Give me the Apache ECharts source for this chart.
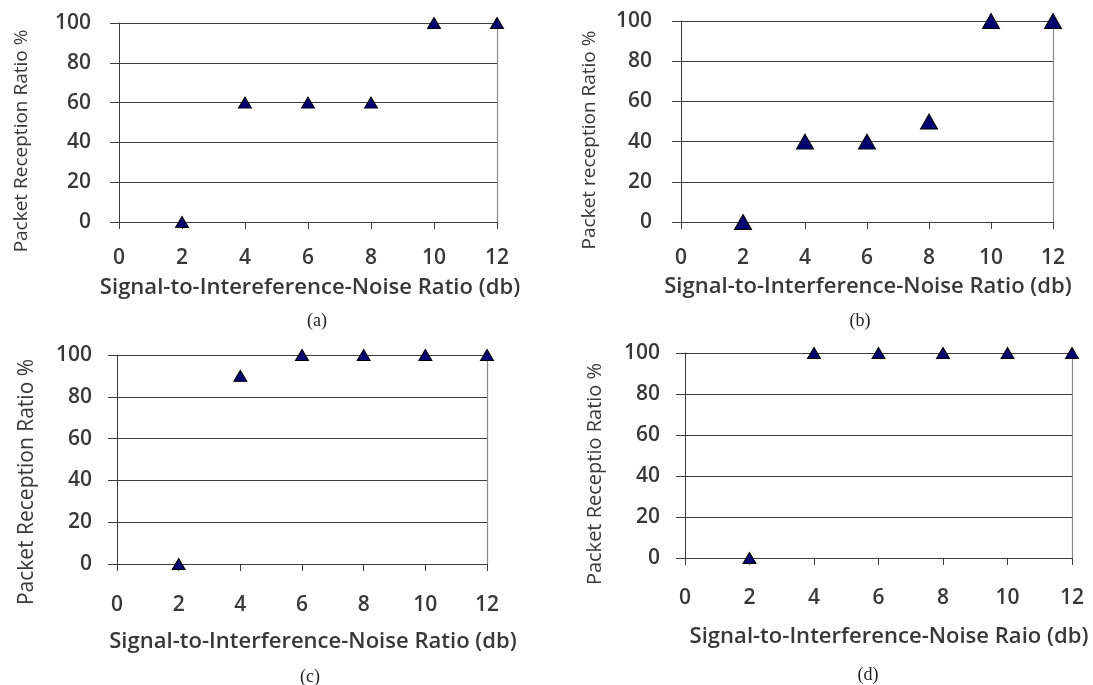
<!DOCTYPE html>
<html>
<head>
<meta charset="utf-8">
<style>
  html, body { margin: 0; padding: 0; background: #fff; }
  #chart { width: 1093px; height: 685px; }
</style>
<script src="https://cdn.jsdelivr.net/npm/echarts@6/dist/echarts.min.js"></script>
</head>
<body>
<div id="chart"></div>
<script>
// SINR values (dB) shared by all four panels
const sinr = [2, 4, 6, 8, 10, 12];

// Packet reception ratio (%) for each scenario
const prrA = [0, 60, 60, 60, 100, 100];
const prrB = [0, 40, 40, 50, 100, 100];
const prrC = [0, 90, 100, 100, 100, 100];
const prrD = [0, 100, 100, 100, 100, 100];

// Axis texts and panel captions
const xTitles = [
  'Signal-to-Intereference-Noise Ratio (db)',
  'Signal-to-Interference-Noise Ratio (db)',
  'Signal-to-Interference-Noise Ratio (db)',
  'Signal-to-Interference-Noise Raio (db)'
];
const yTitles = [
  'Packet Reception Ratio %',
  'Packet reception Ratio %',
  'Packet Reception Ratio %',
  'Packet Receptio Ratio %'
];
const captions = ['(a)', '(b)', '(c)', '(d)'];

// Layout of each panel: plot box, label margins, marker size, title positions
const panels = [
  { data: prrA, left: 119, top: 23, width: 378, height: 199, ym: 28, xm: 26, sym: [13, 11],
    xt: [310, 288], yt: [22, 141], ytSize: 19, cap: [317, 321] },
  { data: prrB, left: 681, top: 21, width: 372, height: 201, ym: 29, xm: 26, sym: [17, 15],
    xt: [868, 287], yt: [590, 140], ytSize: 19, cap: [860, 321] },
  { data: prrC, left: 117, top: 355, width: 370, height: 209, ym: 25, xm: 31, sym: [13, 11],
    xt: [313, 642], yt: [27, 482], ytSize: 21, cap: [310, 677] },
  { data: prrD, left: 685, top: 353, width: 387, height: 205, ym: 25, xm: 30, sym: [13, 11],
    xt: [889, 637], yt: [595, 474], ytSize: 20, cap: [868, 675] }
];

const FONT = '"Open Sans", "Liberation Sans", sans-serif';
const TEXT = '#383838';
const LINE = '#3c3c3c';

const grid = [], xAxis = [], yAxis = [], series = [], graphic = [];

panels.forEach((p, i) => {
  grid.push({ left: p.left, top: p.top, width: p.width, height: p.height, containLabel: false });

  xAxis.push({
    type: 'value', gridIndex: i, min: 0, max: 12, interval: 2,
    axisLine: { show: true, onZero: false, lineStyle: { color: LINE, width: 1 } },
    axisTick: { show: true, length: 7, lineStyle: { color: LINE } },
    axisLabel: { margin: p.xm, color: TEXT, fontFamily: FONT, fontSize: 21, fontWeight: 600 },
    splitLine: { show: false }
  });

  // left value axis with horizontal grid lines
  yAxis.push({
    type: 'value', gridIndex: i, min: 0, max: 100, interval: 20, position: 'left',
    axisLine: { show: true, lineStyle: { color: LINE, width: 1 } },
    axisTick: { show: true, length: 9, lineStyle: { color: LINE } },
    axisLabel: { margin: p.ym, color: TEXT, fontFamily: FONT, fontSize: 21, fontWeight: 600 },
    splitLine: { show: true, lineStyle: { color: LINE, width: 1 } }
  });
  // right border of the plot area
  yAxis.push({
    type: 'value', gridIndex: i, min: 0, max: 100, interval: 20, position: 'right',
    axisLine: { show: true, lineStyle: { color: '#8a8a8a', width: 1.2 } },
    axisTick: { show: false }, axisLabel: { show: false }, splitLine: { show: false }
  });

  series.push({
    type: 'scatter', xAxisIndex: i, yAxisIndex: i * 2,
    data: sinr.map((x, k) => [x, p.data[k]]),
    symbol: 'triangle', symbolSize: p.sym, clip: false,
    itemStyle: { color: '#000070', opacity: 1, borderColor: '#000', borderWidth: 1 },
    z: 5
  });

  graphic.push({
    type: 'text', x: p.xt[0], y: p.xt[1], scaleX: 1.05,
    style: { text: xTitles[i], font: '600 21px ' + FONT, fill: TEXT, align: 'center', verticalAlign: 'middle' }
  });
  graphic.push({
    type: 'text', x: p.yt[0], y: p.yt[1], rotation: Math.PI / 2,
    style: { text: yTitles[i], font: p.ytSize + 'px ' + FONT, fill: TEXT, align: 'center', verticalAlign: 'middle' }
  });
  graphic.push({
    type: 'text', x: p.cap[0], y: p.cap[1],
    style: { text: captions[i], font: '18px "Liberation Serif", serif', fill: '#222', align: 'center', verticalAlign: 'middle' }
  });
});

const chart = echarts.init(document.getElementById('chart'), null, { renderer: 'canvas' });
chart.setOption({
  animation: false,
  backgroundColor: '#fff',
  grid, xAxis, yAxis, series, graphic
});
</script>
</body>
</html>
